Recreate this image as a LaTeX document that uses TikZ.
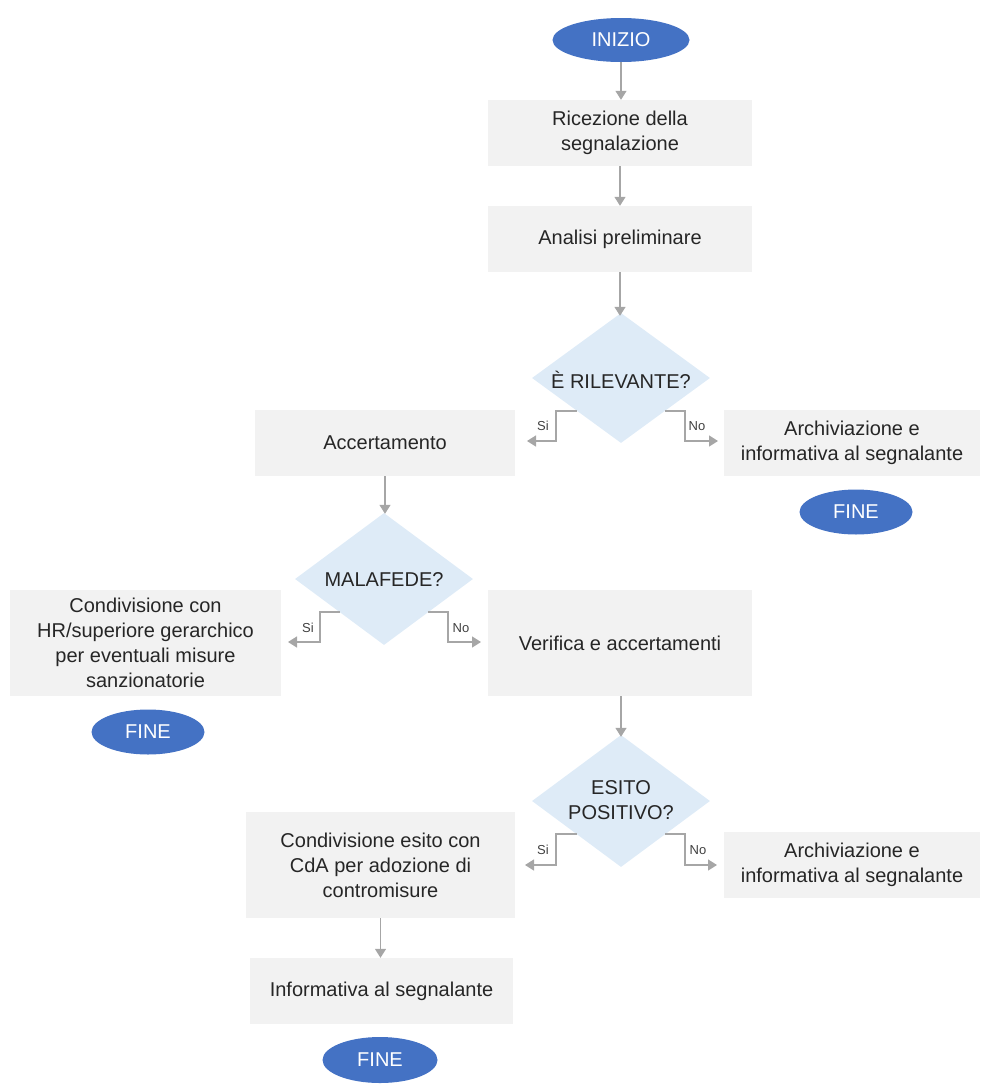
\documentclass[tikz,border=0pt]{standalone}
\usepackage{fontspec}
\setmainfont{Liberation Sans}
\usetikzlibrary{shapes.geometric,arrows.meta}
\definecolor{boxfill}{HTML}{F2F2F2}
\definecolor{dfill}{HTML}{DEEBF7}
\definecolor{tblue}{HTML}{4472C4}
\definecolor{arr}{HTML}{A6A6A6}
\tikzset{
  procbox/.style={fill=boxfill, draw=none, inner sep=0pt, align=center, font=\fontsize{20}{25}\selectfont, text=black!85},
  term/.style={ellipse, fill=tblue, draw=none, inner sep=0pt, text=white, font=\fontsize{20}{24}\selectfont},
  dec/.style={diamond, fill=dfill, draw=none, inner sep=0pt, aspect=1.37, align=center, font=\fontsize{20}{25}\selectfont, text=black!85},
  conn/.style={draw=arr, line width=1.4pt, -{Triangle[length=9pt,width=11pt]}},
  lab/.style={font=\fontsize{13}{15}\selectfont, text=black!75}
}
\begin{document}
\begin{tikzpicture}[x=1pt,y=-1pt]
\useasboundingbox (0,0) rectangle (981,1085);
% terminals
\node[term, minimum width=137pt, minimum height=44pt] (start) at (621,40) {INIZIO};
% boxes
\node[procbox, minimum width=264pt, minimum height=66pt] (ric) at (620,133) {Ricezione della\\segnalazione};
\node[procbox, minimum width=264pt, minimum height=66pt] (ana) at (620,239) {Analisi preliminare};
\node[dec, minimum width=178pt, minimum height=130pt] (ril) at (621,378) {};
\node[font=\fontsize{20}{25}\selectfont, text=black!85] at (621,380) {È RILEVANTE?};
\node[procbox, minimum width=260pt, minimum height=66pt] (acc) at (385,443) {Accertamento};
\node[procbox, minimum width=256pt, minimum height=66pt] (arc1) at (852,443) {Archiviazione e\\informativa al segnalante};
\node[term, minimum width=113pt, minimum height=45pt] (fine1) at (856,512) {FINE};
\node[dec, minimum width=178pt, minimum height=132pt] (mal) at (384,579) {};
\node[font=\fontsize{20}{25}\selectfont, text=black!85] at (384,580) {MALAFEDE?};
\node[procbox, minimum width=271pt, minimum height=106pt] (cond) at (145.5,643) {Condivisione con\\HR/superiore gerarchico\\per eventuali misure\\sanzionatorie};
\node[procbox, minimum width=264pt, minimum height=106pt] (ver) at (620,643) {Verifica e accertamenti};
\node[term, minimum width=113pt, minimum height=45pt] (fine2) at (148,732) {FINE};
\node[dec, minimum width=178pt, minimum height=132pt] (esi) at (621,801) {};
\node[font=\fontsize{20}{25}\selectfont, text=black!85, align=center] at (621,800) {ESITO\\POSITIVO?};
\node[procbox, minimum width=269pt, minimum height=106pt] (conde) at (380.5,865) {Condivisione esito con\\CdA per adozione di\\contromisure};
\node[procbox, minimum width=256pt, minimum height=66pt] (arc2) at (852,865) {Archiviazione e\\informativa al segnalante};
\node[procbox, minimum width=263pt, minimum height=66pt] (inf) at (381.5,991) {Informativa al segnalante};
\node[term, minimum width=115pt, minimum height=46pt] (fine3) at (380,1060) {FINE};
% connectors vertical
\draw[conn] (start.south) -- (start.south |- ric.north);
\draw[conn] (ric.south) -- (ric.south |- ana.north);
\draw[conn] (ana.south) -- ([yshift=-3pt]ana.south |- ril.north);
\draw[conn] (acc.south) -- ([yshift=-1pt]acc.south |- mal.north);
\draw[conn] ([xshift=1pt]ver.south) -- ([xshift=1pt,yshift=-2pt]ver.south |- esi.north);
\draw[conn] (conde.south) -- (conde.south |- inf.north);
% branch coordinates
\coordinate (r1) at (577,411);
\coordinate (r2) at (665,411);
\coordinate (m1) at (340,612);
\coordinate (m2) at (428,612);
\coordinate (e1) at (577,834);
\coordinate (e2) at (665,834);
\coordinate (rS) at (527,441);
\coordinate (rN) at (718,441);
\coordinate (mS) at (288,642);
\coordinate (mN) at (481,642);
\coordinate (eS) at (525,865);
\coordinate (eN) at (717,865);
% branches
\draw[conn] (r1) -- (556,411) -- (556,441) -- (rS);
\draw[conn] (r2) -- (685,411) -- (685,441) -- (rN);
\draw[conn] (m1) -- (320,612) -- (320,642) -- (mS);
\draw[conn] (m2) -- (448,612) -- (448,642) -- (mN);
\draw[conn] (e1) -- (556,834) -- (556,865) -- (eS);
\draw[conn] (e2) -- (685,834) -- (685,865) -- (eN);
% labels
\node[lab] at (543,426) {Si};
\node[lab] at (697,426) {No};
\node[lab] at (308,628) {Si};
\node[lab] at (461,628) {No};
\node[lab] at (543,850) {Si};
\node[lab] at (698,850) {No};
\end{tikzpicture}
\end{document}
